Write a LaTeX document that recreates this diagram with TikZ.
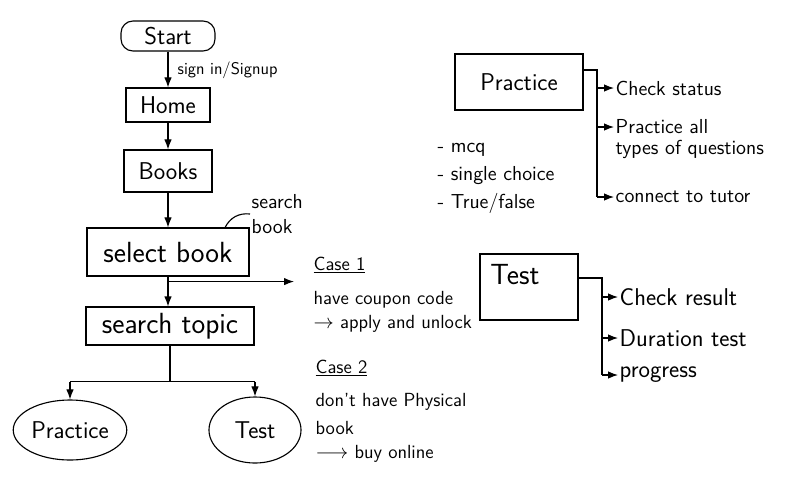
\documentclass[tikz,border=0pt]{standalone}
\usetikzlibrary{arrows.meta,positioning,shapes.geometric,calc}
\begin{document}
\begin{tikzpicture}[x=0.025cm, y=-0.025cm, font=\sffamily,
    flow/.style={-{Latex[length=2.5mm]}, thick},
    line/.style={thick},
    flowbox/.style={draw, thick, font=\sffamily\LARGE, inner sep=2pt},
    oval/.style={draw, thick, ellipse, font=\sffamily\LARGE, inner sep=1pt},
    note/.style={anchor=west, font=\sffamily\fontsize{13.5}{16}\selectfont, inner sep=1pt},
    item/.style={anchor=west, font=\sffamily\LARGE, inner sep=1pt}]
    \useasboundingbox (0,0) rectangle (800,501);
    % main flow
    \node[flowbox, rounded corners=3mm, minimum width=2.35cm, minimum height=0.75cm] (start) at (168,36) {Start};
    \node[flowbox, minimum width=2.1cm, minimum height=0.85cm] (home) at (168,105) {Home};
    \node[flowbox, minimum width=2.2cm, minimum height=1.05cm] (books) at (168,171) {Books};
    \node[flowbox, font=\sffamily\huge, minimum width=4.05cm, minimum height=1.2cm] (select) at (168,252) {select book};
    \node[flowbox, font=\sffamily\huge, minimum width=4.2cm, minimum height=0.95cm] (topic) at (170,326) {search topic};
    \node[oval, minimum width=2.8cm, minimum height=1.5cm] (practice) at (70,430) {Practice};
    \node[oval, minimum width=2.3cm, minimum height=1.65cm] (test) at (255,430) {Test};
    \draw[flow] (start) -- (home);
    \draw[flow] (home) -- (books);
    \draw[flow] (books) -- (select);
    \draw[flow] (select.south) -- (select.south |- topic.north);
    \node[note, font=\sffamily\large] (signin) at (176,70) {sign in/Signup};
    \node[note, font=\sffamily\Large, align=left] (searchnote) at (250,214) {search\\book};
    \draw[line] ($(select.north)!0.7!(select.north east)$) to[bend left=35] (searchnote.west);
    % case notes
    \coordinate (fork1) at ($(select.south)+(0,5)$);
    \coordinate (casetip) at (294,281);
    \draw[flow] (fork1) -- (fork1 -| casetip);
    \node[note] (case1) at (312,265) {\underline{Case 1}};
    \node[note] (coupon) at (312,300) {have coupon code};
    \node[note] (unlock) at (312,324) {$\to$ apply and unlock};
    \node[note] (case2) at (314,368) {\underline{Case 2}};
    \node[note] (physical) at (314,402) {don't have Physical};
    \node[note] (bookword) at (314,428) {book};
    \node[note] (buy) at (314,454) {$\longrightarrow$ buy online};
    % fork to practice / test
    \coordinate (fork2) at ($(topic.south)+(0,36)$);
    \draw[line] (topic.south) -- (fork2);
    \draw[line] (fork2 -| practice) -- (fork2 -| test);
    \draw[flow] (fork2 -| practice) -- (practice.north);
    \draw[flow] (fork2 -| test) -- (test.north);
    % practice details
    \node[flowbox, minimum width=3.2cm, minimum height=1.4cm] (practicebox) at (519,82) {Practice};
    \node[note, font=\sffamily\Large] (mcq) at (436,150) {- mcq};
    \node[note, font=\sffamily\Large] (single) at (436,176) {- single choice};
    \node[note, font=\sffamily\Large] (truefalse) at (436,203) {- True/false};
    \coordinate (ptop) at (597,70);
    \coordinate (pbot) at (597,197);
    \draw[line] (practicebox.east |- ptop) -- (ptop) -- (pbot);
    \foreach \y/\name/\txt in {88/pstatus/Check status,127/pall/Practice all,197/ptutor/connect to tutor}{
        \node[item, font=\sffamily\Large] (\name) at (614,\y) {\txt};
        \draw[flow] (ptop |- \name.west) -- (\name.west);
    }
    \node[item, font=\sffamily\Large, below=2pt of pall.south west, anchor=north west] (ptypes) {types of questions};
    % test details
    \node[flowbox, minimum width=2.45cm, minimum height=1.65cm] (testbox) at (529,287) {};
    \node[anchor=north west, font=\sffamily\huge] (testlabel) at ($(testbox.north west)+(6,6)$) {Test};
    \coordinate (ttop) at (602,278);
    \coordinate (tbot) at (602,375);
    \draw[line] (testbox.east |- ttop) -- (ttop) -- (tbot);
    \foreach \y/\name/\txt in {297/tresult/Check result,338/tduration/Duration test,375/tprogress/progress}{
        \node[item] (\name) at (618,\y) {\txt};
        \draw[flow] (ttop |- \name.west) -- (\name.west);
    }
\end{tikzpicture}
\end{document}
